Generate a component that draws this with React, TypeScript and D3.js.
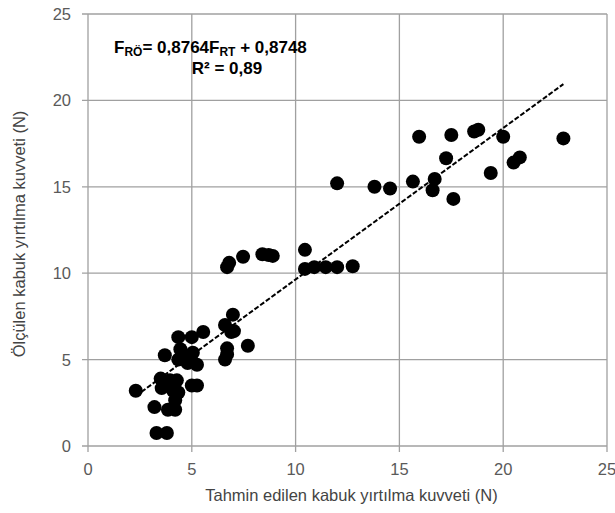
import React from "react";
import * as d3 from "d3";

const predicted = [
  2.3, 3.2, 3.3, 3.8, 3.5, 3.55, 3.8, 3.95, 4.28, 4.1, 4.35, 4.2, 3.85, 4.2,
  4.35, 5.0, 4.45, 4.77, 5.05, 5.25, 5.0, 5.25, 5.55, 4.35, 4.8, 3.7,
  6.6, 6.98, 6.9, 6.7, 6.7, 6.6, 7.7, 7.03,
  6.7, 6.8, 7.47, 8.4, 8.7, 8.9,
  10.45, 10.45, 10.9, 11.45, 12.0, 12.75, 12.0,
  13.8, 14.55, 15.65, 15.95, 16.7, 16.6, 17.5, 17.25, 17.6, 18.6, 18.8,
  19.4, 20.0, 20.5, 20.8, 22.9,
];
const measured = [
  3.2, 2.25, 0.75, 0.75, 3.9, 3.35, 3.7, 3.8, 3.8, 3.2, 3.1, 2.1, 2.1, 2.65,
  6.3, 6.3, 5.6, 5.0, 5.4, 4.7, 3.5, 3.5, 6.6, 5.0, 4.8, 5.25,
  7.0, 7.6, 6.6, 5.65, 5.3, 5.0, 5.8, 6.65,
  10.35, 10.6, 10.95, 11.1, 11.05, 11.0,
  11.35, 10.25, 10.35, 10.35, 10.35, 10.4, 15.2,
  15.0, 14.9, 15.3, 17.9, 15.45, 14.8, 18.0, 16.65, 14.3, 18.2, 18.3,
  15.8, 17.9, 16.4, 16.7, 17.8,
];
const slope = 0.8764;
const intercept = 0.8748;
const ticks = [0, 5, 10, 15, 20, 25];

const W = 615;
const H = 513;
const left = 88;
const right = 607;
const top = 14;
const bottom = 446;

export default function App() {
  const x = d3.scaleLinear().domain([0, 25]).range([left, right]);
  const y = d3.scaleLinear().domain([0, 25]).range([bottom, top]);
  const [x0, x1] = d3.extent(predicted) as [number, number];
  const font = "'Liberation Sans', Arial, sans-serif";
  const grid = "#a0a0a0";

  return (
    <svg
      width={W}
      height={H}
      style={{ position: "absolute", left: 0, top: 0, background: "#fff" }}
      fontFamily={font}
    >
      {/* grid */}
      {ticks.map((t) => (
        <g key={"g" + t}>
          <line x1={x(t)} x2={x(t)} y1={top} y2={bottom + 6} stroke={grid} strokeWidth={1.3} />
          <line x1={left - 6} x2={right} y1={y(t)} y2={y(t)} stroke={grid} strokeWidth={1.3} />
          <text x={x(t)} y={bottom + 29} textAnchor="middle" fontSize={16.5} fill="#5a5a5a">
            {t}
          </text>
          <text x={left - 17} y={y(t) + 6} textAnchor="end" fontSize={16.5} fill="#5a5a5a">
            {t}
          </text>
        </g>
      ))}

      {/* points */}
      {predicted.map((p, i) => (
        <circle key={i} cx={x(p)} cy={y(measured[i])} r={7} fill="#000" />
      ))}

      {/* trend line */}
      <line
        x1={x(x0)}
        y1={y(slope * x0 + intercept)}
        x2={x(x1)}
        y2={y(slope * x1 + intercept)}
        stroke="#000"
        strokeWidth={2}
        strokeDasharray="5,2"
      />

      {/* equation */}
      <text x={114} y={53} fontSize={17} fontWeight="bold" fill="#000">
        F<tspan fontSize={12} dy={3}>RÖ</tspan>
        <tspan dy={-3}>= 0,8764F</tspan>
        <tspan fontSize={12} dy={3}>RT</tspan>
        <tspan dy={-3}>{"  + 0,8748"}</tspan>
      </text>
      <text x={227} y={74} textAnchor="middle" fontSize={17} fontWeight="bold" fill="#000">
        R² = 0,89
      </text>

      {/* axis titles */}
      <text x={(left + right) / 2 + 4} y={501} textAnchor="middle" fontSize={16.5} fill="#444">
        Tahmin edilen kabuk yırtılma kuvveti (N)
      </text>
      <text
        transform={`translate(25,${(top + bottom) / 2 + 4}) rotate(-90)`}
        textAnchor="middle"
        fontSize={16.5}
        fill="#444"
      >
        Ölçülen kabuk yırtılma kuvveti (N)
      </text>
    </svg>
  );
}
